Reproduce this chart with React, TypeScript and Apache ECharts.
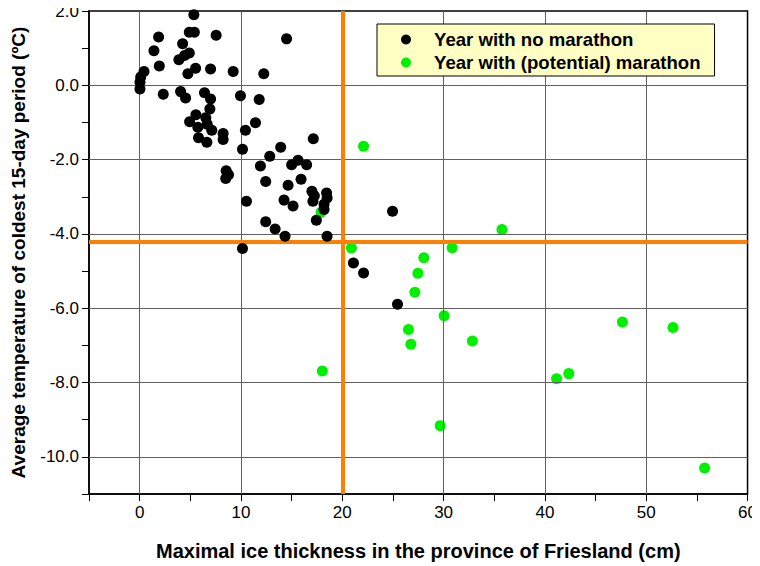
import React, { useEffect, useRef } from "react";
import * as echarts from "echarts";

// Year with no marathon: [ice thickness (cm), avg temperature (°C)]
const noMarathon: [number, number][] = [
  [5.35, 1.9], [4.9, 1.43], [5.4, 1.43], [1.87, 1.3], [7.55, 1.35],
  [4.24, 1.12], [1.41, 0.93], [4.9, 0.87], [4.43, 0.8], [3.87, 0.69],
  [1.94, 0.52], [5.52, 0.46], [7.0, 0.44], [9.23, 0.37], [4.76, 0.31],
  [0.43, 0.37], [0.1, 0.22], [0.03, 0.08], [0.03, -0.1], [2.33, -0.24],
  [4.04, -0.17], [4.53, -0.34], [6.4, -0.2], [7.0, -0.37], [9.95, -0.28],
  [6.93, -0.64], [14.5, 1.25], [12.25, 0.31], [11.8, -0.38], [5.55, -0.79],
  [4.93, -0.98], [6.53, -0.87], [5.74, -1.13], [6.67, -1.05], [7.12, -1.21],
  [5.81, -1.41], [6.63, -1.53], [8.24, -1.3], [8.24, -1.46], [10.44, -1.21],
  [11.43, -1.01], [10.15, -1.72], [17.14, -1.44], [13.92, -1.67], [12.84, -1.91],
  [15.63, -2.02], [15.0, -2.14], [16.48, -2.14], [11.92, -2.17], [8.54, -2.3],
  [8.77, -2.41], [8.5, -2.51], [12.44, -2.59], [15.93, -2.53], [14.65, -2.69],
  [17.0, -2.85], [18.45, -2.9], [17.24, -2.97], [18.5, -3.03], [17.1, -3.12],
  [18.2, -3.2], [18.2, -3.34], [14.25, -3.09], [15.14, -3.25], [10.54, -3.12],
  [17.44, -3.63], [12.44, -3.67], [13.37, -3.87], [14.35, -4.06], [18.5, -4.06],
  [10.15, -4.39], [24.96, -3.39], [21.1, -4.78], [22.1, -5.05], [25.45, -5.89],
];

// Year with (potential) marathon
const withMarathon: [number, number][] = [
  [22.1, -1.64], [17.9, -3.42], [35.76, -3.88], [20.9, -4.38], [30.84, -4.37],
  [28.05, -4.64], [27.46, -5.06], [27.16, -5.57], [30.05, -6.2], [47.65, -6.37],
  [52.64, -6.52], [26.53, -6.57], [26.77, -6.97], [32.84, -6.88], [18.03, -7.69],
  [41.15, -7.9], [42.36, -7.76], [29.66, -9.16], [55.76, -10.3],
];

const thresholdIce = 20;
const thresholdTemp = -4.2;

// major gridline positions
const xGridValues = [0, 10, 20, 30, 40, 50];
const yGridValues = [-10, -8, -6, -4, -2, 0];

const xTitle = "Maximal ice thickness in the province of Friesland (cm)";
const yTitle = "Average temperature of coldest 15-day period (ºC)";
const seriesNames = ["Year with no marathon", "Year with (potential) marathon"];

const FONT = "'Liberation Sans', Arial, Helvetica, sans-serif";

export default function App() {
  const ref = useRef<HTMLDivElement>(null);
  useEffect(() => {
    if (!ref.current) return;
    const chart = echarts.init(ref.current, undefined, { renderer: "svg" });
    chart.setOption({
      animation: false,
      backgroundColor: "#ffffff",
      textStyle: { fontFamily: FONT },
      grid: {
        left: 89,
        right: 12,
        top: 11,
        bottom: 70,
        show: true,
        borderColor: "#000",
        borderWidth: 1.5,
        backgroundColor: "rgba(0,0,0,0)",
      },
      legend: {
        data: seriesNames,
        orient: "vertical",
        left: 377,
        top: 24,
        icon: "circle",
        itemWidth: 40,
        itemHeight: 10,
        itemGap: 4,
        padding: [6, 14, 4, 24],
        backgroundColor: "#ffffc4",
        borderColor: "#000",
        borderWidth: 1,
        z: 10,
        textStyle: {
          fontFamily: FONT,
          fontSize: 18.6,
          fontWeight: "bold",
          color: "#000",
          lineHeight: 18,
          padding: [0, 0, 0, 3],
        },
      },
      xAxis: {
        type: "value",
        min: -5,
        max: 60,
        interval: 5,
        name: xTitle,
        nameLocation: "middle",
        nameGap: 47,
        nameTextStyle: { fontFamily: FONT, fontSize: 20, fontWeight: "bold", color: "#000" },
        axisLine: { show: true, onZero: false, lineStyle: { color: "#000", width: 1.5 } },
        axisTick: { show: true, length: 7, lineStyle: { color: "#000", width: 1 } },
        axisLabel: {
          fontFamily: FONT,
          fontSize: 17,
          color: "#000",
          margin: 10,
          formatter: (v: number) => (v % 10 === 0 ? String(v) : ""),
        },
        splitLine: { show: false },
      },
      yAxis: {
        type: "value",
        min: -11,
        max: 2,
        interval: 1,
        name: yTitle,
        nameLocation: "middle",
        nameGap: 61,
        nameTextStyle: { fontFamily: FONT, fontSize: 19, fontWeight: "bold", color: "#000" },
        axisLine: { show: true, onZero: false, lineStyle: { color: "#000", width: 1.5 } },
        axisTick: { show: true, length: 7, lineStyle: { color: "#000", width: 1 } },
        axisLabel: {
          fontFamily: FONT,
          fontSize: 17,
          color: "#000",
          margin: 10,
          formatter: (v: number) => (Math.abs(v) % 2 === 0 ? v.toFixed(1) : ""),
        },
        splitLine: { show: false },
      },
      series: [
        {
          name: "grid",
          type: "scatter",
          data: [],
          z: 2,
          silent: true,
          markLine: {
            silent: true,
            symbol: "none",
            label: { show: false },
            lineStyle: { color: "#606060", width: 1, type: "solid" },
            data: [
              ...xGridValues.map((v) => ({ xAxis: v })),
              ...yGridValues.map((v) => ({ yAxis: v })),
            ],
          },
        },
        {
          name: "thresholds",
          type: "scatter",
          data: [],
          z: 3,
          silent: true,
          markLine: {
            silent: true,
            symbol: "none",
            label: { show: false },
            lineStyle: { color: "#ff8000", width: 4, type: "solid" },
            data: [{ xAxis: thresholdIce }, { yAxis: thresholdTemp }],
          },
        },
        {
          name: seriesNames[1],
          type: "scatter",
          data: withMarathon,
          symbolSize: 11,
          z: 4,
          itemStyle: { color: "#00f000", opacity: 1 },
        },
        {
          name: seriesNames[0],
          type: "scatter",
          data: noMarathon,
          symbolSize: 11,
          z: 5,
          itemStyle: { color: "#000000", opacity: 1 },
        },
      ],
    });
    return () => chart.dispose();
  }, []);
  return <div ref={ref} style={{ width: 760, height: 566, marginLeft: -8, marginTop: -8 }} />;
}
